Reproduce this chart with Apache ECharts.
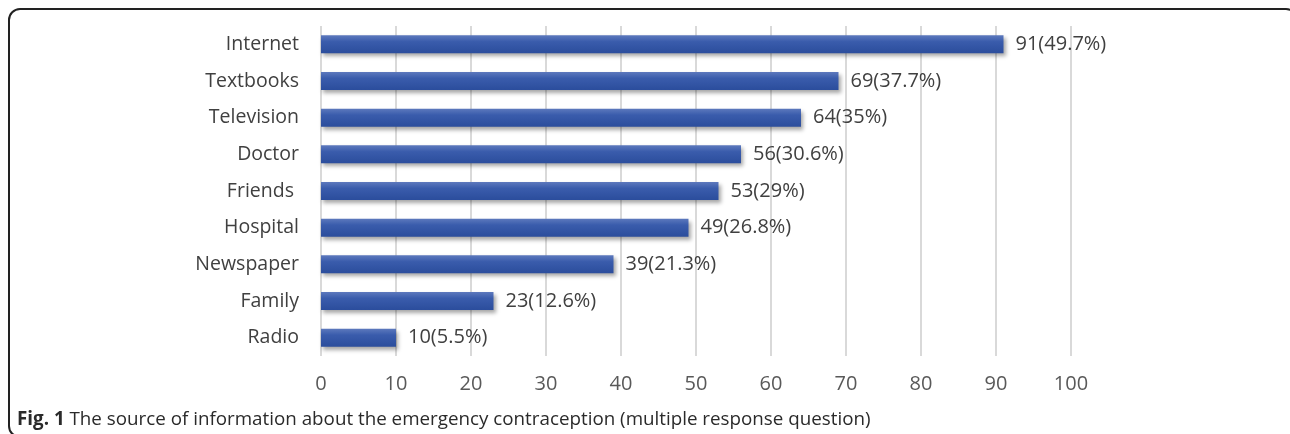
<!DOCTYPE html>
<html>
<head>
<meta charset="utf-8">
<script src="https://cdn.jsdelivr.net/npm/echarts@6/dist/echarts.min.js"></script>
<style>
  html, body { margin: 0; padding: 0; background: #fff; }
  #frame {
    position: absolute; left: 8px; top: 8px; width: 1290px; height: 430px;
    border: 2px solid #222; border-radius: 12px; box-sizing: border-box;
  }
  #chart { position: absolute; left: 0; top: 0; width: 1290px; height: 434px; }
</style>
</head>
<body>
<div id="frame"></div>
<div id="chart"></div>
<script>
// categories top to bottom as in the figure
const categories = ["Internet", "Textbooks", "Television", "Doctor", "Friends ", "Hospital", "Newspaper", "Family", "Radio"];
const counts = [91, 69, 64, 56, 53, 49, 39, 23, 10];
const percents = ["49.7", "37.7", "35", "30.6", "29", "26.8", "21.3", "12.6", "5.5"];
const caption = "The source of information about the emergency contraception (multiple response question)";

const chart = echarts.init(document.getElementById("chart"));

const barColor = new echarts.graphic.LinearGradient(0, 0, 0, 1, [
    { offset: 0, color: "#5d79bd" },
    { offset: 0.35, color: "#3a5cac" },
    { offset: 1, color: "#2b4d9c" }
]);

const option = {
    animation: false,
    title: {
        left: 12,
        top: 405,
        text: "{b|Fig. 1} " + caption,
        textStyle: {
            fontFamily: "Open Sans",
            fontSize: 18.8,
            fontWeight: "normal",
            color: "#2a2a2a",
            rich: {
                b: { fontFamily: "Open Sans", fontSize: 18.8, fontWeight: "bold", color: "#2a2a2a" }
            }
        }
    },
    grid: { left: 321, width: 750, top: 26, height: 330 },
    xAxis: {
        type: "value",
        min: 0,
        max: 100,
        interval: 10,
        axisLine: { show: false },
        axisTick: { show: false },
        splitLine: { lineStyle: { color: "#d9d9d9", width: 2 } },
        axisLabel: { margin: 18, fontFamily: "Open Sans", fontSize: 20, color: "#595959" }
    },
    yAxis: {
        type: "category",
        inverse: true,
        data: categories,
        axisLine: { show: false },
        axisTick: { show: false },
        axisLabel: { margin: 22, fontFamily: "Open Sans", fontSize: 19.5, color: "#404040" }
    },
    series: [{
        type: "bar",
        data: counts,
        barWidth: 18,
        itemStyle: {
            color: barColor,
            shadowColor: "rgba(0,0,0,0.35)",
            shadowBlur: 4,
            shadowOffsetX: 2,
            shadowOffsetY: 3
        },
        label: {
            show: true,
            position: "right",
            distance: 12,
            fontFamily: "Open Sans",
            fontSize: 20,
            color: "#404040",
            formatter: (p) => counts[p.dataIndex] + "(" + percents[p.dataIndex] + "%)"
        }
    }]
};

chart.setOption(option);
</script>
</body>
</html>
